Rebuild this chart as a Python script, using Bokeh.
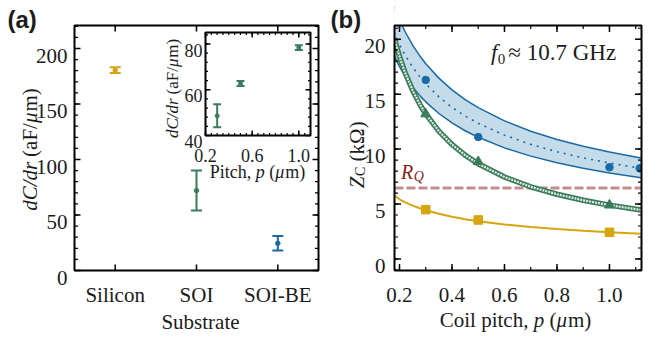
import math
from bokeh.plotting import figure
from bokeh.models import Range1d, Label, ColumnDataSource
from bokeh.embed import file_html
from bokeh.resources import INLINE

# ---------------- colours / fonts ----------------
YELLOW = "#d6a50f"
GREEN = "#3b7c5b"
GREEN_IN = "#e2eee5"
BLUE = "#1a6aa6"
BAND = "#c4dcea"
RQ_LINE = "#c28e8e"
RQ_TEXT = "#8b1d1d"
INK = "#1c1c1c"
SERIF = "Liberation Serif"
SANS = "Liberation Sans"

# ---------------- data: panel (a) ----------------
substrates = ["Silicon", "SOI", "SOI-BE"]
substrate_pos = [1, 2, 3]
dcdr = [180.5, 72.0, 24.5]
dcdr_err = [2.7, 18.0, 6.5]
substrate_colors = [YELLOW, GREEN, BLUE]
a_yticks = [0, 50, 100, 150, 200]
a_ytick_labels = ["0", "50", "100", "150", "200"]
a_yminor = list(range(0, 221, 10))

# inset
inset_pitch = [0.3, 0.5, 1.0]
inset_dcdr = [48.6, 62.7, 78.4]
inset_err = [5.0, 1.1, 1.0]
inset_x_lim = (0.2, 1.1)
inset_y_lim = (40, 85)
inset_xticks = [0.2, 0.6, 1.0]
inset_xtick_labels = ["0.2", "0.6", "1.0"]
inset_xminor = [round(0.2 + 0.05 * k, 2) for k in range(19)]
inset_yticks = [40, 60, 80]
inset_ytick_labels = ["40", "60", "80"]
inset_yminor = list(range(40, 86, 4))

# ---------------- data: panel (b) ----------------
pitch_blue = [0.3, 0.5, 1.0, 1.115]
zc_blue = [16.3, 11.1, 8.34, 8.25]
pitch_green = [0.3, 0.5, 1.0]
zc_green = [13.2, 8.85, 4.9]
pitch_yellow = [0.3, 0.5, 1.0]
zc_yellow = [4.49, 3.55, 2.43]

curve_pitch = [0.18, 0.2, 0.22, 0.25, 0.28, 0.3, 0.35, 0.4, 0.45, 0.5,
               0.6, 0.7, 0.8, 0.9, 1.0, 1.12]
blue_mid = [20.58, 19.52, 18.61, 17.46, 16.50, 15.94, 14.76, 13.80, 13.01, 12.35,
            11.27, 10.43, 9.76, 9.20, 8.73, 8.25]
blue_hi = [22.95, 21.76, 20.75, 19.47, 18.40, 17.77, 16.46, 15.39, 14.51, 13.77,
           12.57, 11.63, 10.88, 10.26, 9.73, 9.20]
blue_lo = [18.46, 17.51, 16.69, 15.66, 14.80, 14.30, 13.24, 12.38, 11.67, 11.08,
           10.11, 9.36, 8.75, 8.25, 7.83, 7.40]
green_fit = [20.10, 18.43, 17.04, 15.34, 13.97, 13.20, 11.63, 10.42, 9.45, 8.67,
             7.46, 6.57, 5.89, 5.34, 4.90, 4.46]
yellow_fit = [5.80, 5.43, 5.18, 4.86, 4.59, 4.44, 4.11, 3.84, 3.62, 3.44,
              3.14, 2.90, 2.72, 2.56, 2.43, 2.30]
rq_value = 6.45
b_xticks = [0.2, 0.4, 0.6, 0.8, 1.0]
b_xtick_labels = ["0.2", "0.4", "0.6", "0.8", "1.0"]
b_xminor = [round(0.1 * k, 1) for k in range(2, 12)]
b_yticks = [0, 5, 10, 15, 20]
b_ytick_labels = ["0", "5", "10", "15", "20"]
b_yminor = list(range(-1, 22))

# ---------------- geometry (page pixels) ----------------
CANVAS = (8, 662, 8, 343)        # left, right, top, bottom of the figure on the page
A_FRAME = (82, 326, 33, 278)
B_FRAME = (402, 649, 33, 278)
B_AREA = (335, 662, 8, 343)      # page area belonging to panel (b)
INSET_FRAME = (213, 318, 40, 143)
A_X = (0.5, 3.5)
A_Y = (0.0, 220.7)
B_X = (0.181, 1.122)
B_Y = (-1.05, 21.25)
MID = 0.34   # glyph centre above baseline, in em

EM = {'a': .444, 'b': .5, 'c': .444, 'd': .5, 'e': .444, 'f': .3, 'g': .5, 'h': .5,
      'i': .278, 'k': .5, 'l': .278, 'm': .778, 'n': .5, 'o': .5, 'p': .5, 'r': .37,
      's': .389, 't': .278, 'u': .5, 'z': .444, 'C': .667, 'F': .556, 'G': .722,
      'H': .722, 'P': .556, 'S': .556, 'Z': .58, 'R': .64, 'Q': .722, '/': .278,
      '(': .333, ')': .333, ',': .25, ' ': .25, '.': .25, 'μ': .55, 'Ω': .768, '≈': .549}


def tw(s, size):
    return sum(EM.get(c, 0.5) for c in s) * size


def extend(v0, v1, f_lo, f_hi, c_lo, c_hi):
    s = (f_hi - f_lo) / (v1 - v0)
    return (v0 - (f_lo - c_lo) / s, v1 + (c_hi - f_hi) / s)


def x_range_for(vr, frame):
    return Range1d(*extend(vr[0], vr[1], frame[0], frame[1], CANVAS[0], CANVAS[1]))


def y_range_for(vr, frame):
    return Range1d(*extend(vr[0], vr[1], -frame[3], -frame[2], -CANVAS[3], -CANVAS[2]))


def px_per_unit(vr, lo, hi):
    return (hi - lo) / (vr[1] - vr[0])


WIDTH = CANVAS[1] - CANVAS[0]
HEIGHT = CANVAS[3] - CANVAS[2]
p = figure(width=WIDTH, height=HEIGHT, title=None,
           x_range=x_range_for(A_X, A_FRAME), y_range=y_range_for(A_Y, A_FRAME),
           min_border_left=0, min_border_right=0, min_border_top=0, min_border_bottom=0,
           x_axis_location=None, y_axis_location=None,
           output_backend="svg", toolbar_location=None)
p.grid.visible = False
p.outline_line_color = None
p.background_fill_color = "white"
p.border_fill_color = "white"
p.extra_x_ranges = {"bx": x_range_for(B_X, B_FRAME),
                    "ix": x_range_for(inset_x_lim, INSET_FRAME)}
p.extra_y_ranges = {"by": y_range_for(B_Y, B_FRAME),
                    "iy": y_range_for(inset_y_lim, INSET_FRAME)}
BR = dict(x_range_name="bx", y_range_name="by")
IR = dict(x_range_name="ix", y_range_name="iy")

XR0, XR1 = p.x_range.start, p.x_range.end
YR0, YR1 = p.y_range.start, p.y_range.end


def fx(px):
    return XR0 + (px - CANVAS[0]) / WIDTH * (XR1 - XR0)


def fy(py):
    return YR1 - (py - CANVAS[2]) / HEIGHT * (YR1 - YR0)


def put(px, py, text, size, style="normal", color=INK, font=SERIF, align="left", angle=0.0):
    """(px, py): page position of the text baseline anchor."""
    p.add_layout(Label(x=fx(px), y=fy(py), text=text, text_font=font,
                       text_font_size=f"{size}px", text_font_style=style,
                       text_color=color, text_align=align,
                       text_baseline="alphabetic", angle=angle))


def put_row(px, py, pieces, size, angle=0.0, color=INK):
    """pieces: (text, style, size or None, baseline shift down in px).
    angle 0: (px, py) = centre x, baseline y.  angle pi/2: px = baseline x, py = centre y."""
    total = sum(tw(t, s or size) for t, st, s, d in pieces)
    pos = -total / 2
    for t, st, s, d in pieces:
        sz = s or size
        if t.strip():
            if angle == 0.0:
                X, Y = px + pos, py + d
            else:
                X, Y = px + d, py - pos
            put(X, Y, t, sz, style=st, angle=angle, color=color)
        pos += tw(t, sz)


def box_axes(xr, yr, xmaj, xmin, ymaj, ymin, maj_len, min_len, fill=None, **names):
    p.quad(left=[xr[0]], right=[xr[1]], bottom=[yr[0]], top=[yr[1]],
           fill_color=fill, line_color="black", line_width=2, **names)
    for ticks, ln, w in ((xmaj, maj_len, 1.5), (xmin, min_len, 1.2)):
        p.ray(x=ticks, y=[yr[0]] * len(ticks), length=ln, angle=math.pi / 2,
              length_units="screen", line_color="black", line_width=w, **names)
        p.ray(x=ticks, y=[yr[1]] * len(ticks), length=ln, angle=-math.pi / 2,
              length_units="screen", line_color="black", line_width=w, **names)
    for ticks, ln, w in ((ymaj, maj_len, 1.5), (ymin, min_len, 1.2)):
        p.ray(x=[xr[0]] * len(ticks), y=ticks, length=ln, angle=0.0,
              length_units="screen", line_color="black", line_width=w, **names)
        p.ray(x=[xr[1]] * len(ticks), y=ticks, length=ln, angle=math.pi,
              length_units="screen", line_color="black", line_width=w, **names)


def tick_labels(xr, yr, sx, sy, xt, xl, yt, yl, size, xbase, ygap, **names):
    """xbase: page distance frame bottom -> x-label baseline; ygap: frame left -> y-label end."""
    for t, s in zip(xt, xl):
        p.add_layout(Label(x=t, y=yr[0] - xbase / sy, text=s, text_font=SERIF,
                           text_font_size=f"{size}px", text_color=INK,
                           text_align="center", text_baseline="alphabetic", **names))
    for t, s in zip(yt, yl):
        p.add_layout(Label(x=xr[0] - ygap / sx, y=t - MID * size / sy, text=s,
                           text_font=SERIF, text_font_size=f"{size}px", text_color=INK,
                           text_align="right", text_baseline="alphabetic", **names))


def dcdr_label():
    return [("dC/dr", "italic", None, 0), (" ", "normal", None, 0), ("(aF/", "normal", None, 0),
            ("μ", "italic", None, 0), ("m)", "normal", None, 0)]


def pitch_label(first):
    return [(first, "normal", None, 0), (" ", "normal", None, 0), ("p", "italic", None, 0),
            (" ", "normal", None, 0), ("(", "normal", None, 0), ("μ", "italic", None, 0),
            ("m)", "normal", None, 0)]


# ================= panel (a) =================
sxa = px_per_unit(A_X, A_FRAME[0], A_FRAME[1])
sya = px_per_unit(A_Y, A_FRAME[2], A_FRAME[3])
src_a = ColumnDataSource(dict(
    x=substrate_pos, y=dcdr,
    lo=[v - e for v, e in zip(dcdr, dcdr_err)],
    hi=[v + e for v, e in zip(dcdr, dcdr_err)],
    color=substrate_colors))
p.segment(x0="x", y0="lo", x1="x", y1="hi", line_color="color", line_width=2, source=src_a)
p.scatter("x", "lo", marker="dash", size=11, line_color="color", line_width=2, source=src_a)
p.scatter("x", "hi", marker="dash", size=11, line_color="color", line_width=2, source=src_a)
p.scatter("x", "y", marker="circle", size=4.5, fill_color="color", line_color="color", source=src_a)

box_axes(A_X, A_Y, substrate_pos, [], a_yticks, a_yminor, 6, 3.5)
tick_labels(A_X, A_Y, sxa, sya, substrate_pos, substrates, a_yticks, a_ytick_labels,
            21, 24, 7)

# ---- inset ----
isx = px_per_unit(inset_x_lim, INSET_FRAME[0], INSET_FRAME[1])
isy = px_per_unit(inset_y_lim, INSET_FRAME[2], INSET_FRAME[3])
box_axes(inset_x_lim, inset_y_lim, inset_xticks, inset_xminor, inset_yticks,
         inset_yminor, 5, 2.5, fill="white", **IR)
src_i = ColumnDataSource(dict(
    x=inset_pitch, y=inset_dcdr,
    lo=[v - e for v, e in zip(inset_dcdr, inset_err)],
    hi=[v + e for v, e in zip(inset_dcdr, inset_err)]))
p.segment(x0="x", y0="lo", x1="x", y1="hi", line_color=GREEN, line_width=2, source=src_i, **IR)
p.scatter("x", "lo", marker="dash", size=8, line_color=GREEN, line_width=2, source=src_i, **IR)
p.scatter("x", "hi", marker="dash", size=8, line_color=GREEN, line_width=2, source=src_i, **IR)
p.scatter("x", "y", marker="circle", size=4, fill_color=GREEN, line_color=GREEN, source=src_i, **IR)
tick_labels(inset_x_lim, inset_y_lim, isx, isy, inset_xticks, inset_xtick_labels,
            inset_yticks, inset_ytick_labels, 18, 20, 3, **IR)

put(15, 27, "(a)", 24, style="bold", font=SANS)
put_row(37, 157, dcdr_label(), 21, angle=math.pi / 2)
put(208, 329, "Substrate", 21, align="center")
put_row(180, 96, dcdr_label(), 17, angle=math.pi / 2)
put_row(265, 179, pitch_label("Pitch,"), 18)

# ================= panel (b) =================
sxb = px_per_unit(B_X, B_FRAME[0], B_FRAME[1])
syb = px_per_unit(B_Y, B_FRAME[2], B_FRAME[3])
p.segment(x0=[B_X[0]], y0=[rq_value], x1=[B_X[1]], y1=[rq_value], line_color=RQ_LINE,
          line_width=3, line_dash="9 3", **BR)
p.varea(x=curve_pitch, y1=blue_lo, y2=blue_hi, fill_color=BAND, fill_alpha=1.0, **BR)
p.line(curve_pitch, blue_hi, line_color=BLUE, line_width=1.5, **BR)
p.line(curve_pitch, blue_lo, line_color=BLUE, line_width=1.5, **BR)
p.line(curve_pitch, blue_mid, line_color=BLUE, line_width=1.6, line_dash="2 5", **BR)
p.line(curve_pitch, green_fit, line_color=GREEN, line_width=5.5, **BR)
p.line(curve_pitch, green_fit, line_color=GREEN_IN, line_width=2.2, line_dash="2 1", **BR)
p.line(curve_pitch, yellow_fit, line_color=YELLOW, line_width=2, **BR)
p.scatter(pitch_blue, zc_blue, marker="circle", size=7.5, fill_color=BLUE, line_color=BLUE, **BR)
p.scatter(pitch_green, zc_green, marker="triangle", size=10, fill_color=GREEN, line_color=GREEN, **BR)
p.scatter(pitch_yellow, zc_yellow, marker="square", size=8.5, fill_color=YELLOW, line_color=YELLOW, **BR)

# white masks around frame (b) emulate clipping to the frame
al, ar, at, ab = B_AREA
bl, br, bt, bb = B_FRAME
p.quad(left=[fx(al), fx(br), fx(bl), fx(bl)], right=[fx(bl), fx(ar), fx(br), fx(br)],
       bottom=[fy(ab), fy(ab), fy(bt), fy(ab)], top=[fy(at), fy(at), fy(at), fy(bb)],
       fill_color="white", line_color=None)

box_axes(B_X, B_Y, b_xticks, b_xminor, b_yticks, b_yminor, 6.5, 3.5, **BR)
tick_labels(B_X, B_Y, sxb, syb, b_xticks, b_xtick_labels, b_yticks, b_ytick_labels,
            21, 24, 9, **BR)

put(338, 27, "(b)", 24, style="bold", font=SANS)
put_row(364, 162,
        [("Z", "italic", None, 0), ("C", "normal", 14, 4), (" ", "normal", None, 0),
         ("(kΩ)", "normal", None, 0)], 21, angle=math.pi / 2)
put_row(523, 327, pitch_label("Coil pitch,"), 21)
put_row(561, 60,
        [("f", "italic", None, 0), ("0", "normal", 15, 6), (" ", "normal", 12, 0),
         ("≈", "normal", None, 0), (" ", "normal", None, 0), ("10.7", "normal", None, 0),
         (" ", "normal", None, 0), ("GHz", "normal", None, 0)], 23)
put_row(420, 179, [("R", "italic", None, 0), ("Q", "italic", 14, 5)], 20, color=RQ_TEXT)

open("out.html", "w").write(file_html(p, INLINE))
